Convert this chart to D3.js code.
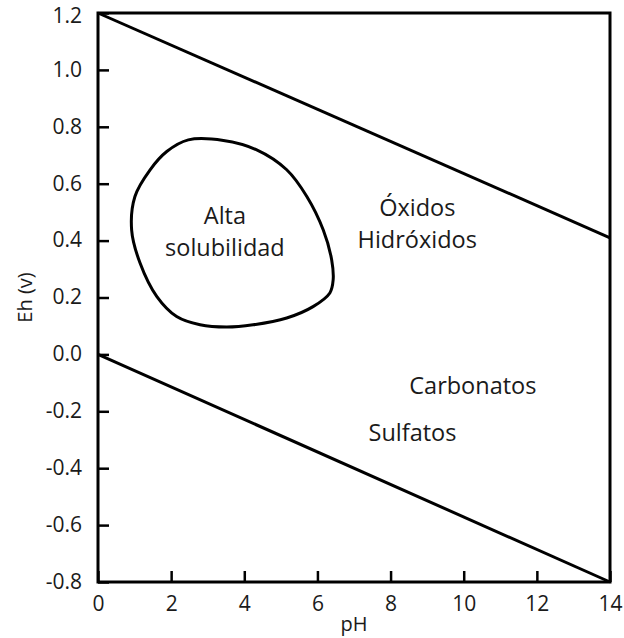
<!DOCTYPE html>
<html>
<head>
<meta charset="utf-8">
<script src="https://cdn.jsdelivr.net/npm/d3@7"></script>
<style>
  body { margin: 0; background: #fff; }
  text { font-family: "Open Sans", sans-serif; fill: #1a1a1a; }
</style>
</head>
<body>
<script>
// tick values
let xTicks = [0, 2, 4, 6, 8, 10, 12, 14];
let yTicks = [1.2, 1.0, 0.8, 0.6, 0.4, 0.2, 0.0, -0.2, -0.4, -0.6, -0.8];

// stability limits of water, [pH, Eh]
let upperLine = [[0, 1.2], [14, 0.41]];
let lowerLine = [[0, 0.0], [14, -0.8]];

// closed region "Alta solubilidad", [pH, Eh]
let blob = [
  [2.47, 0.754], [3.43, 0.752], [4.34, 0.719], [5.16, 0.649], [5.71, 0.555],
  [6.16, 0.437], [6.39, 0.332], [6.43, 0.262], [6.34, 0.216], [5.88, 0.168],
  [5.16, 0.128], [4.24, 0.104], [3.52, 0.096], [2.79, 0.104], [2.15, 0.133],
  [1.61, 0.203], [1.15, 0.321], [0.92, 0.437], [1.01, 0.555], [1.42, 0.648],
  [1.88, 0.713]
];

// region labels: text lines, anchor [pH, Eh]
let labels = [
  { lines: ["Alta", "solubilidad"], at: [3.47, 0.46] },
  { lines: ["Óxidos", "Hidróxidos"], at: [8.73, 0.485] },
  { lines: ["Carbonatos"], at: [10.25, -0.14] },
  { lines: ["Sulfatos"], at: [8.6, -0.305] }
];

let width = 624, height = 638;
let margin = { top: 13, right: 14, bottom: 56, left: 98 };

let svg = d3.select("body").append("svg")
  .attr("width", width)
  .attr("height", height);

let x = d3.scaleLinear().domain([0, 14]).range([margin.left, width - margin.right]);
let y = d3.scaleLinear().domain([-0.8, 1.2]).range([height - margin.bottom, margin.top]);

// axes with inward ticks
let xAxis = svg.append("g")
  .attr("transform", `translate(0,${height - margin.bottom})`)
  .call(d3.axisBottom(x).tickValues(xTicks).tickSizeInner(-11).tickSizeOuter(0).tickPadding(14).tickFormat(d => d));
let yAxis = svg.append("g")
  .attr("transform", `translate(${margin.left},0)`)
  .call(d3.axisLeft(y).tickValues(yTicks).tickSizeInner(-11).tickSizeOuter(0).tickPadding(16).tickFormat(d => d.toFixed(1)));

[xAxis, yAxis].forEach(a => {
  a.select(".domain").remove();
  a.selectAll("line").attr("stroke", "#000").attr("stroke-width", 2.5);
  a.selectAll("text").attr("font-size", 21).attr("fill", "#1a1a1a").style("font-family", "'Open Sans', sans-serif");
});
// keep the top label inside the page
yAxis.selectAll("text").attr("dy", d => d == 1.2 ? "0.47em" : "0.3em");

// frame
svg.append("rect")
  .attr("x", x(0)).attr("y", y(1.2))
  .attr("width", x(14) - x(0)).attr("height", y(-0.8) - y(1.2))
  .attr("fill", "none").attr("stroke", "#000").attr("stroke-width", 3);

let line = d3.line().x(d => x(d[0])).y(d => y(d[1]));

svg.append("path").datum(upperLine).attr("d", line)
  .attr("fill", "none").attr("stroke", "#000").attr("stroke-width", 3);
svg.append("path").datum(lowerLine).attr("d", line)
  .attr("fill", "none").attr("stroke", "#000").attr("stroke-width", 3);

svg.append("path").datum(blob)
  .attr("d", line.curve(d3.curveCatmullRomClosed.alpha(0.5)))
  .attr("fill", "none").attr("stroke", "#000").attr("stroke-width", 3)
  .attr("stroke-linejoin", "round");

// region labels
labels.forEach(l => {
  let t = svg.append("text")
    .attr("text-anchor", "middle")
    .attr("font-size", 23.5)
    .attr("x", x(l.at[0]))
    .attr("y", y(l.at[1]));
  l.lines.forEach((s, i) => {
    t.append("tspan").attr("x", x(l.at[0])).attr("dy", i == 0 ? 0 : 32).text(s);
  });
});

// axis titles
svg.append("text")
  .attr("text-anchor", "middle").attr("font-size", 20)
  .attr("x", (x(0) + x(14)) / 2).attr("y", 631)
  .text("pH");
svg.append("text")
  .attr("text-anchor", "middle").attr("font-size", 20)
  .attr("transform", `translate(32,${(y(1.2) + y(-0.8)) / 2}) rotate(-90)`)
  .text("Eh (v)");
</script>
</body>
</html>
